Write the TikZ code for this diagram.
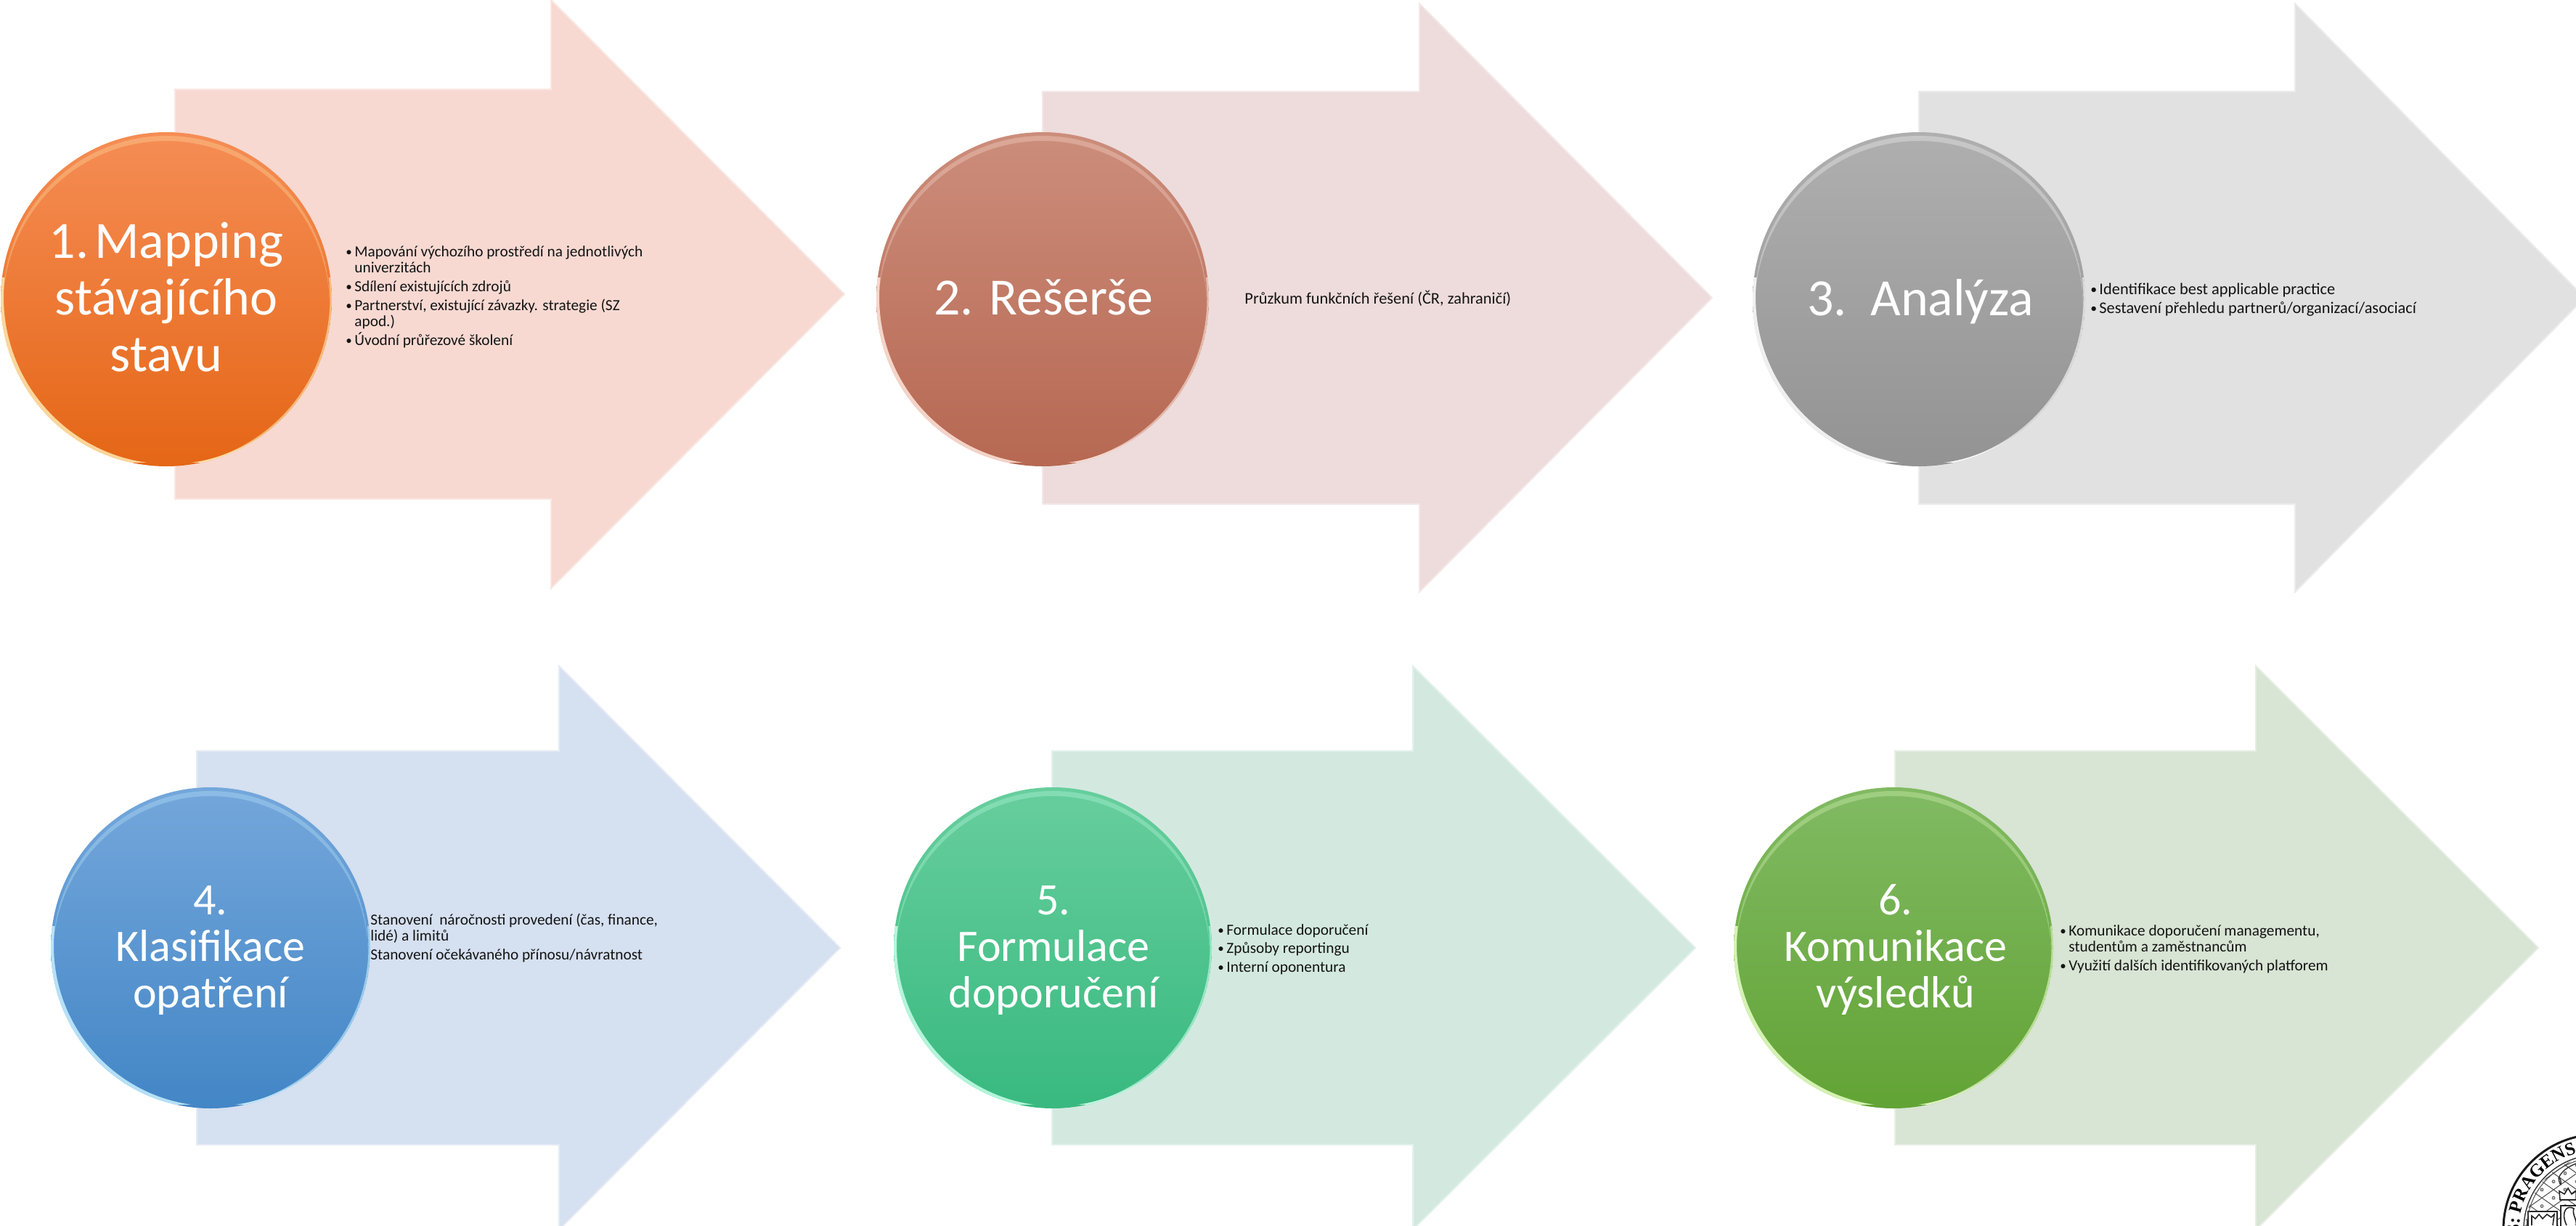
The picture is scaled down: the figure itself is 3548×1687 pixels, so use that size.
\documentclass[tikz,border=0pt]{standalone}
\usepackage{fontspec}
\setmainfont{Carlito}
\newfontfamily\sealfont{Liberation Serif}[BoldFont={Liberation Serif Bold}]
\usetikzlibrary{shapes.geometric,decorations.text}
\definecolor{aA}{HTML}{F7D9D2}\definecolor{aB}{HTML}{EDDCDB}\definecolor{aC}{HTML}{E1E1E1}
\definecolor{aD}{HTML}{D5E0F0}\definecolor{aE}{HTML}{D3E9E0}\definecolor{aF}{HTML}{D8E4D4}
\definecolor{oA}{HTML}{F58D55}\definecolor{oB}{HTML}{F57C2B}\definecolor{oC}{HTML}{E56616}\definecolor{oL}{HTML}{FFE9B0}
\definecolor{rA}{HTML}{CC8D7B}\definecolor{rB}{HTML}{C67C69}\definecolor{rC}{HTML}{B66852}\definecolor{rL}{HTML}{FFE6DC}
\definecolor{gA}{HTML}{AFAFAF}\definecolor{gB}{HTML}{A4A4A4}\definecolor{gC}{HTML}{939393}\definecolor{gL}{HTML}{FFFFFF}
\definecolor{bA}{HTML}{74A7DB}\definecolor{bB}{HTML}{5799DB}\definecolor{bC}{HTML}{4386C6}\definecolor{bL}{HTML}{C8F0FF}
\definecolor{mA}{HTML}{67CE9D}\definecolor{mB}{HTML}{47C88F}\definecolor{mC}{HTML}{38B97F}\definecolor{mL}{HTML}{C8FFEA}
\definecolor{lA}{HTML}{81BA63}\definecolor{lB}{HTML}{72B34B}\definecolor{lC}{HTML}{62A335}\definecolor{lL}{HTML}{E8FFC8}
\definecolor{ink}{HTML}{141414}
\tikzset{
  bigarrow/.style={fill=#1,draw=#1!65!white,line width=1pt,line join=miter},
  orb/.style={ellipse,inner sep=0pt,outer sep=0pt,draw=none},
  headA/.style={text=white,align=center,anchor=base,inner sep=0pt,font=\fontsize{36}{39}\selectfont},
  headB/.style={text=white,align=center,anchor=base,inner sep=0pt,font=\fontsize{31}{32}\selectfont},
  note/.style={text=ink,align=left,anchor=base west,inner sep=0pt,font=\fontsize{10.65}{11}\selectfont},
  notewide/.style={note,font=\fontsize{11.2}{11}\selectfont},
}
\newcommand{\blt}{\makebox[6pt][l]{\raisebox{.5pt}{\scalebox{.8}{\textbullet}}}}
\newcommand{\ind}{\hspace*{6pt}}
% #1 left, #2 head x, #3 tip x, #4 tip y, #5 head half height, #6 body half height, #7 colour
\newcommand{\bigarr}[7]{%
  \path[bigarrow=#7] (#1,#4-#6) -- (#2,#4-#6) -- (#2,#4-#5) -- (#3,#4) -- (#2,#4+#5) -- (#2,#4+#6) -- (#1,#4+#6) -- cycle;}
% #1 name, #2 cx, #3 cy, #4 rx, #5 ry, #6 colour prefix
\newcommand{\bead}[6]{%
  \node[orb,minimum width=#4*1pt,minimum height=#5*1pt,top color=#6A,middle color=#6B,bottom color=#6C] (#1) at (#2,#3) {};
  \begin{scope}
    \clip (#2,#3) ellipse [x radius=#4,y radius=#5];
    \clip (#2-#4-2,#3-30) rectangle (#2+#4+2,#3+#5-6);
    \fill[#6L,opacity=.85,even odd rule] (#2,#3) ellipse [x radius=#4,y radius=#5]
       (#2+4,#3-3) ellipse [x radius=#4,y radius=#5];
    \fill[#6L,opacity=.6,even odd rule] (#2,#3) ellipse [x radius=#4,y radius=#5]
       (#2-2.5,#3-1) ellipse [x radius=#4,y radius=#5];
  \end{scope}
  \begin{scope}
    \clip (#2,#3+4) ellipse [x radius=#4-3,y radius=#5-1];
    \fill[#6L,opacity=.3,even odd rule] (#2,#3+4) ellipse [x radius=#4-3,y radius=#5-1]
       (#2,#3+11) ellipse [x radius=#4-3,y radius=#5-1];
  \end{scope}}
\begin{document}
\begin{tikzpicture}[x=.5pt,y=-.5pt]
\useasboundingbox (0,0) rectangle (3548,1687);
\clip (0,0) rectangle (3548,1687);
\fill[white] (0,0) rectangle (3548,1687);

\bigarr{241}{759}{1163}{405}{405}{282}{aA}
\bigarr{1436}{1955}{2358}{410}{405}{284}{aB}
\bigarr{2643}{3161}{3560}{410}{405}{284}{aC}
\bigarr{271}{770}{1157}{1305}{388}{271}{aD}
\bigarr{1449}{1946}{2335}{1305}{388}{271}{aE}
\bigarr{2610}{3107}{3496}{1305}{388}{271}{aF}

\bead{orbA}{229}{412}{228}{230}{o}
\bead{orbB}{1436}{412}{229}{230}{r}
\bead{orbC}{2643}{412}{229}{230}{g}
\bead{orbD}{290}{1305}{220}{221}{b}
\bead{orbE}{1450}{1305}{219}{221}{m}
\bead{orbF}{2608}{1305}{220}{221}{l}

\node[headA] (titleA) at (229,511) {1.\hspace{4pt}Mapping\\stávajícího\\stavu};
\node[headA] (titleB) at (1437,433) {2. Rešerše};
\node[headA] (titleC) at (2645,434) {3.\ \ Analýza};
\node[headB] (titleD) at (290,1387) {4.\\Klasifikace\\opatření};
\node[headB] (titleE) at (1451,1387) {5.\\Formulace\\doporučení};
\node[headB] (titleF) at (2611,1387) {6.\\Komunikace\\výsledků};

\node[note] (textA) at (476,475) {\blt Mapování výchozího prostředí na jednotlivých\\\ind univerzitách\\[2pt]
  \blt Sdílení existujících zdrojů\\[2pt]
  \blt Partnerství, existující závazky. strategie (SZ\\\ind apod.)\\[2pt]
  \blt Úvodní průřezové školení};
\node[notewide] (textB) at (1714,418) {Průzkum funkčních řešení (ČR, zahraničí)};
\node[notewide] (textC) at (2879,431) {\blt Identifikace best applicable practice\\[1.7pt]
  \blt Sestavení přehledu partnerů/organizací/asociací};
\node[note] (textD) at (510,1321) {Stanovení\ \ náročnosti provedení (čas, finance,\\lidé) a limitů\\[2pt]
  Stanovení očekávaného přínosu/návratnost};
\node[note] (textE) at (1677,1338) {\blt Formulace doporučení\\[1.7pt]\blt Způsoby reportingu\\[1.7pt]\blt Interní oponentura};
\node[note] (textF) at (2837,1336) {\blt Komunikace doporučení managementu,\\\ind studentům a zaměstnancům\\[2pt]
  \blt Využití dalších identifikovaných platforem};

% University seal, cut by the page corner
\coordinate (sealc) at (3578,1692);
\begin{scope}
  \clip (sealc) circle [radius=100];
  \begin{scope}[shift={(3501,1638)}]
    \foreach \k in {-7,...,7} {
      \draw[black!70,line width=.5pt] (16+\k*16,-\k*11.3) ++(-160,-113) -- ++(320,226);
      \draw[black!70,line width=.5pt] (16+\k*16,\k*11.3) ++(-160,113) -- ++(320,-226);
    }
    \foreach \i in {-1,...,4} \foreach \j in {-1,...,4} {
      \draw[black!65,line width=.4pt,fill=black!25] (\i*16+\j*16,-\i*11.3+\j*11.3) circle [radius=2];
    }
  \end{scope}
  \path[draw=black!85,fill=white,line width=.8pt] (3482,1668) -- (3522,1668) -- (3522,1700) -- (3482,1700) -- cycle;
  \draw[black!85,line width=.8pt] (3487,1687) -- (3487,1674) -- (3492,1678) -- (3497,1672) -- (3502,1678) -- (3508,1672) -- (3514,1676) -- (3518,1672) -- (3516,1687);
  \path[draw=black!85,fill=white,line width=.8pt] (3527,1660) -- (3570,1660) -- (3570,1700) -- (3527,1700) -- cycle;
  \draw[black!85,line width=.8pt] (3535,1687) .. controls (3526,1668) and (3536,1658) .. (3545,1664) .. controls (3542,1672) and (3550,1680) .. (3548,1687);
  \path[draw=black!85,fill=white,line width=.8pt] (3526,1652) -- (3525,1640) -- (3532,1644) -- (3537,1636) -- (3542,1644) -- (3548,1640) -- (3548,1652) -- cycle;
  \draw[black!80,line width=.7pt] (3525,1620) .. controls (3530,1632) and (3526,1636) .. (3524,1622) .. controls (3528,1612) and (3538,1606) .. (3548,1602);
\end{scope}
\draw[black!90,line width=1.5pt] (sealc) circle [radius=130];
\draw[black!80,line width=.7pt] (sealc) circle [radius=102];
\draw[black!70,line width=.5pt] (sealc) circle [radius=98];
\path[postaction={decorate,decoration={text along path,text align={left indent=0pt},
   text={|\sealfont\bfseries\fontsize{12.5}{13}\selectfont|S: PRAGENS}}}]
   (sealc) ++(176:108) arc [start angle=176,end angle=290,radius=108];
\end{tikzpicture}
\end{document}
